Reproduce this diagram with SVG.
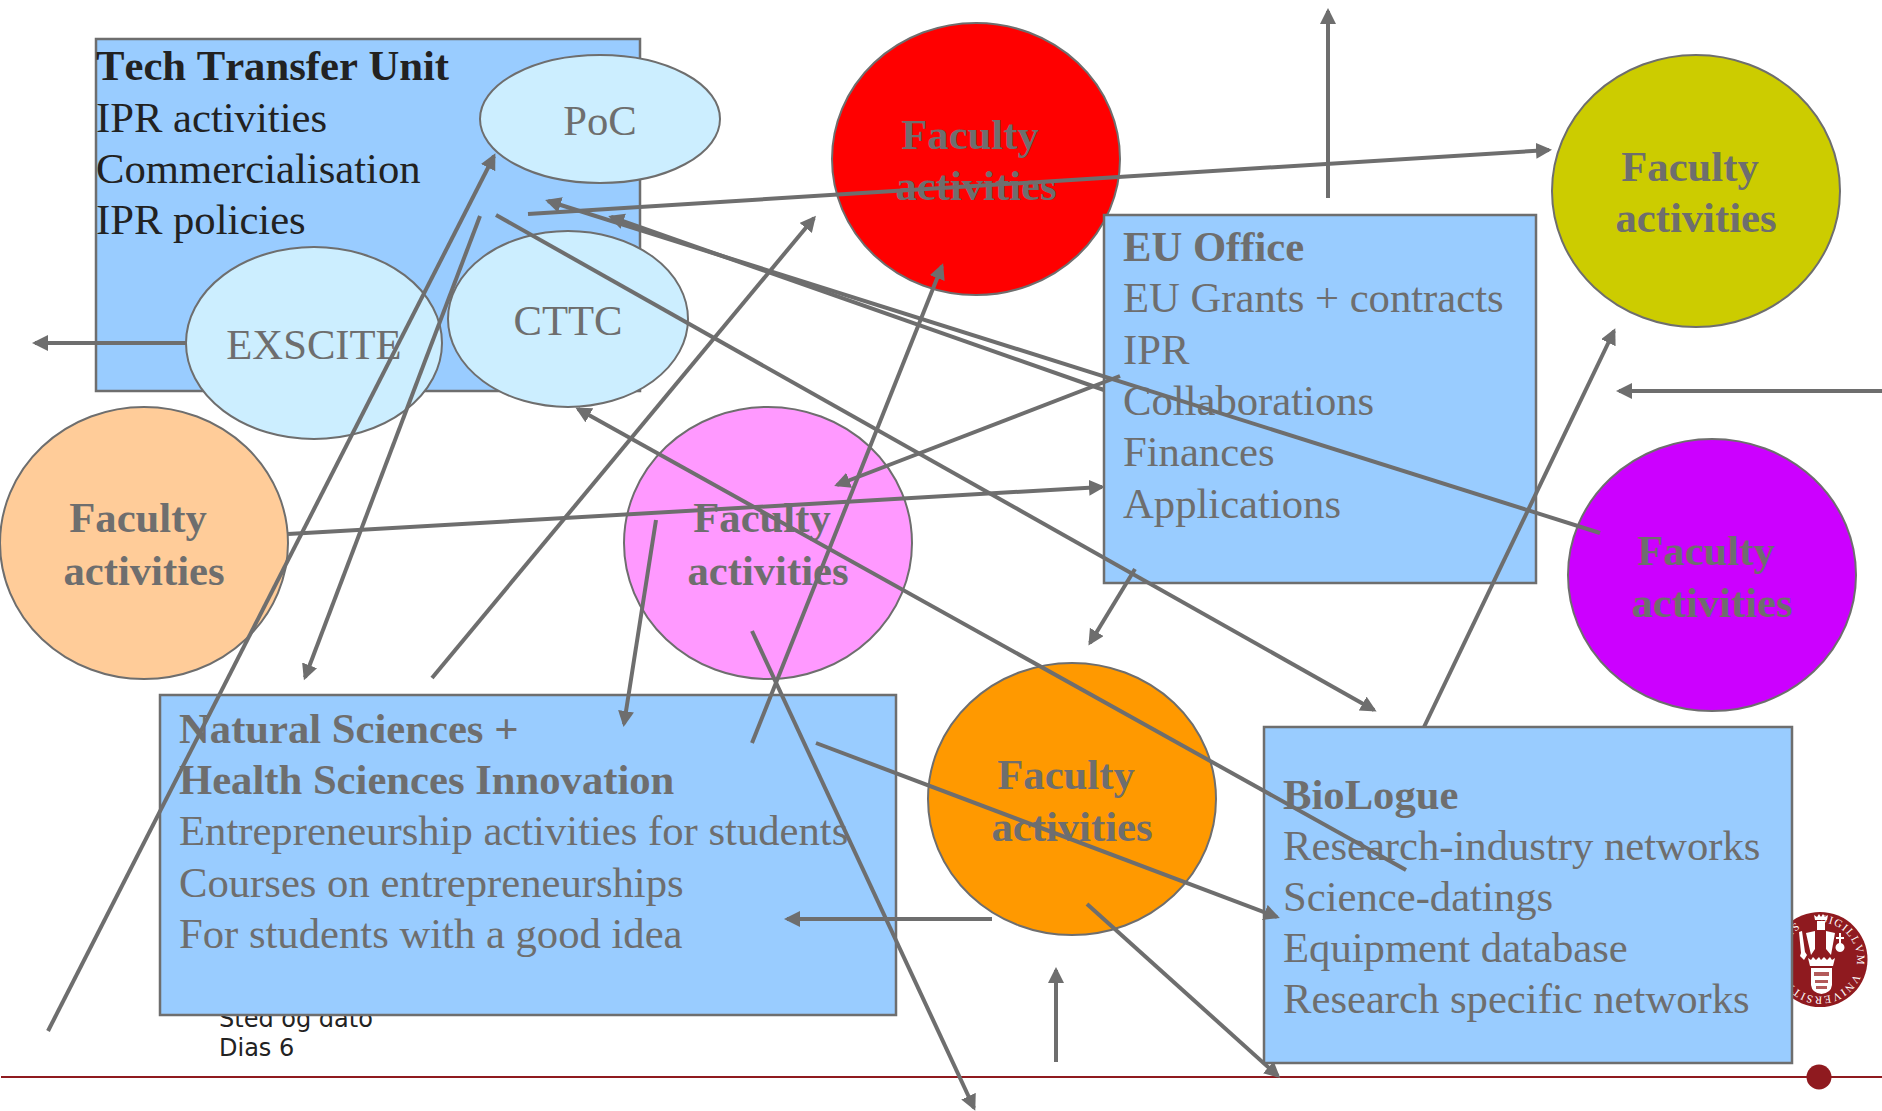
<svg xmlns="http://www.w3.org/2000/svg" width="1882" height="1111" viewBox="0 0 1882 1111">
<style>
text{font-family:"Liberation Serif","Times New Roman",serif;font-size:42.67px;fill:#6e6e6e;font-kerning:none}
.b{font-weight:bold}
.d{fill:#222}
.c{text-anchor:middle}
.box{fill:#9cf;stroke:#6e6e6e;stroke-width:2.5}
.in{fill:#cef;stroke:#6e6e6e;stroke-width:2}
.fac{stroke:#6e6e6e;stroke-width:2}
.foot{font-family:"DejaVu Sans",Verdana,sans-serif;font-size:24px;fill:#222;font-kerning:auto}
.s{font-family:"Liberation Serif","Times New Roman",serif;font-size:11px;fill:#fff;letter-spacing:1.4px}
#connectors line{stroke:#6e6e6e;stroke-width:4;marker-end:url(#a)}
</style>
<defs>
<marker id="a" markerUnits="userSpaceOnUse" markerWidth="20" markerHeight="20" refX="13" refY="8" orient="auto"><path d="M0 0L16 8L0 16z" fill="#6e6e6e"/></marker>
<path id="sealArc" d="M1783 959.500a37 37 0 1 1 74 0a37 37 0 1 1 -74 0"/>
</defs>
<rect width="1882" height="1111" fill="#fff"/>
<g id="footer">
<text class="foot" x="219" y="1027">Sted og dato</text>
<text class="foot" x="219" y="1056">Dias 6</text>
<line x1="1" y1="1077" x2="1882" y2="1077" stroke="#8f1a1f" stroke-width="2"/>
<circle cx="1819" cy="1077" r="12.500" fill="#8f1a1f"/>
</g>
<g id="seal">
<circle cx="1820" cy="959.500" r="47.500" fill="#8f1a1f"/>
<path d="M1815 920l-1-5 3 2 2-3 2 3 2-3 2 3 3-2-1 5z M1817 921h8v9h-8z M1806 933l9-2v18l-4 6z M1826 931l9 2-4 22-5-6z M1799 932l3-1 3 21 2 3-3 5-4-4 1-3z M1839 943v-4h-3v-2h3v-4h2v4h3v2h-3v4a4.500 4.500 0 1 1 -2 0z M1808 958l3 2 2-3 3 3 3-3 2 3 3-3 3 3 3-3 2 3 3-2-2 8h-23z M1811 968h21v17q-1 8-10.500 9q-9.500-1-10.500-9z" fill="#fff"/>
<path d="M1814 972h15v4h-15z M1815 980h13v3h-13z M1816 986h11v3h-11z" fill="#b35a5a"/>
<text class="s"><textPath href="#sealArc" startOffset="8%">SIS<tspan dx="20">SIGILLVM</tspan><tspan dx="8">VNIVERSITATIS</tspan></textPath></text>
</g>
<g id="tech-transfer-unit">
<rect class="box" x="96" y="39" width="544" height="352"/>
<text class="b d" x="96" y="80">Tech Transfer Unit</text>
<text class="d" x="96" y="132">IPR activities</text>
<text class="d" x="96" y="183">Commercialisation</text>
<text class="d" x="96" y="234">IPR policies</text>
</g>
<g id="poc"><ellipse class="in" cx="600" cy="119" rx="120" ry="64"/><text class="c" x="600" y="135">PoC</text></g>
<g id="exscite"><ellipse class="in" cx="314" cy="343" rx="128" ry="96"/><text class="c" x="314" y="359">EXSCITE</text></g>
<g id="cttc"><ellipse class="in" cx="568" cy="319" rx="120" ry="88"/><text class="c" x="568" y="335">CTTC</text></g>
<g id="faculty-peach"><ellipse class="fac" fill="#fc9" cx="144" cy="543" rx="144" ry="136"/><text class="b c" x="138" y="532">Faculty</text><text class="b c" x="144" y="585">activities</text></g>
<g id="faculty-pink"><ellipse class="fac" fill="#f9f" cx="768" cy="543" rx="144" ry="136"/><text class="b c" x="762" y="532">Faculty</text><text class="b c" x="768" y="585">activities</text></g>
<g id="faculty-red"><ellipse class="fac" fill="#f00" cx="976" cy="159" rx="144" ry="136"/><text class="b c" x="970" y="149">Faculty</text><text class="b c" x="976" y="200">activities</text></g>
<g id="faculty-yellow"><ellipse class="fac" fill="#cc0" cx="1696" cy="191" rx="144" ry="136"/><text class="b c" x="1690" y="181">Faculty</text><text class="b c" x="1696" y="232">activities</text></g>
<g id="faculty-purple"><ellipse class="fac" fill="#c0f" cx="1712" cy="575" rx="144" ry="136"/><text class="b c" x="1706" y="565">Faculty</text><text class="b c" x="1712" y="617">activities</text></g>
<g id="faculty-orange"><ellipse class="fac" fill="#f90" cx="1072" cy="799" rx="144" ry="136"/><text class="b c" x="1066" y="789">Faculty</text><text class="b c" x="1072" y="841">activities</text></g>
<g id="eu-office">
<rect class="box" x="1104" y="215" width="432" height="368"/>
<text class="b" x="1123" y="261">EU Office</text>
<text x="1123" y="312">EU Grants + contracts</text>
<text x="1123" y="364">IPR</text>
<text x="1123" y="415">Collaborations</text>
<text x="1123" y="466">Finances</text>
<text x="1123" y="518">Applications</text>
</g>
<g id="innovation">
<rect class="box" x="160" y="695" width="736" height="320"/>
<text class="b" x="179" y="743">Natural Sciences +</text>
<text class="b" x="179" y="794">Health Sciences Innovation</text>
<text x="179" y="845">Entrepreneurship activities for students</text>
<text x="179" y="897">Courses on entrepreneurships</text>
<text x="179" y="948">For students with a good idea</text>
</g>
<g id="biologue">
<rect class="box" x="1264" y="727" width="528" height="336"/>
<text class="b" x="1283" y="809">BioLogue</text>
<text x="1283" y="860">Research-industry networks</text>
<text x="1283" y="911">Science-datings</text>
<text x="1283" y="962">Equipment database</text>
<text x="1283" y="1013">Research specific networks</text>
</g>
<g id="connectors">
<line x1="48" y1="1031" x2="494" y2="156"/>
<line x1="480" y1="216" x2="305" y2="677.500"/>
<line x1="432" y1="678" x2="814" y2="218"/>
<line x1="528" y1="214" x2="1549" y2="150"/>
<line x1="1328" y1="198" x2="1328" y2="11"/>
<line x1="1600" y1="533" x2="548" y2="201"/>
<line x1="1104" y1="390" x2="611" y2="217"/>
<line x1="1120" y1="376" x2="837" y2="485"/>
<line x1="288" y1="534" x2="1102" y2="487"/>
<line x1="496" y1="215" x2="1374" y2="710"/>
<line x1="1135" y1="569" x2="1090" y2="643"/>
<line x1="752" y1="743" x2="942" y2="266"/>
<line x1="656" y1="520" x2="624" y2="724"/>
<line x1="1406" y1="870" x2="578" y2="409"/>
<line x1="752" y1="631" x2="974" y2="1108"/>
<line x1="816" y1="743" x2="1277" y2="917"/>
<line x1="992" y1="919" x2="787" y2="919"/>
<line x1="1056" y1="1062" x2="1056" y2="970"/>
<line x1="1087" y1="904" x2="1278" y2="1076"/>
<line x1="1424" y1="727" x2="1614" y2="331"/>
<line x1="1882" y1="391" x2="1619" y2="391"/>
<line x1="186" y1="343" x2="35" y2="343"/>
</g>
</svg>
